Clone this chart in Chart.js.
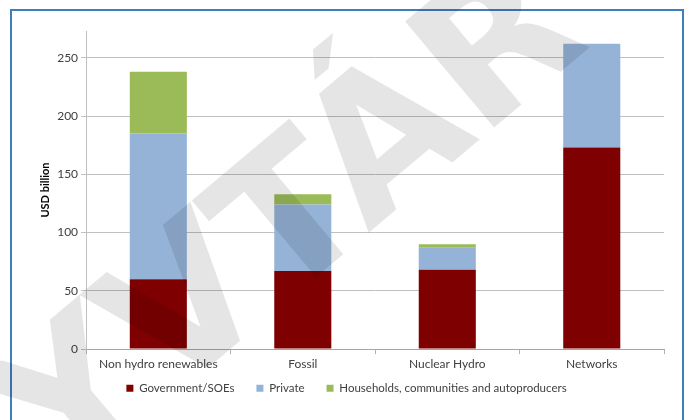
<!DOCTYPE html>
<html>
<head>
<meta charset="utf-8">
<script src="https://cdn.jsdelivr.net/npm/chart.js@4.4.1/dist/chart.umd.min.js"></script>
<style>
    body { margin: 0; background: #fff; }
    #wrap { position: relative; width: 689px; height: 420px; overflow: hidden; }
    #frame { position: absolute; left: 10px; top: 9px; width: 670px; height: 430px; border: 2px solid #3f7dc1; }
    #myChart { position: absolute; left: 0; top: 0; }
</style>
</head>
<body>
<div id="wrap">
    <div id="frame"></div>
    <canvas id="myChart" width="689" height="420"></canvas>
</div>
<script>
var categories = ['Non hydro renewables', 'Fossil', 'Nuclear Hydro', 'Networks'];
var seriesNames = ['Government/SOEs', 'Private', 'Households, communities and autoproducers'];
var government = [60, 67, 68, 173];
var privateSector = [125, 57, 19, 89];
var households = [53, 9, 3, 0];
var yTicks = [0, 50, 100, 150, 200, 250];
var watermarkText = 'KÖNYVTÁR';

var colors = ['#7f0000', '#95b3d7', '#9bbb59'];
var font = "Lato, 'Liberation Sans', sans-serif";

// pull the legend up closer to the category labels
var legendShift = {
    id: 'legendShift',
    afterLayout: function(chart) {
        chart.legend.top -= 14;
        chart.legend.bottom -= 14;
    }
};

// watermark drawn over everything, like the scanned original
var watermark = {
    id: 'watermark',
    afterDraw: function(chart) {
        var ctx = chart.ctx;
        ctx.save();
        ctx.translate(561, 7);
        ctx.rotate(-40 * Math.PI / 180);
        ctx.font = "bold 190px 'DejaVu Sans'";
        ctx.fillStyle = 'rgba(0, 0, 0, 0.1)';
        ctx.textAlign = 'right';
        ctx.textBaseline = 'middle';
        ctx.fillText(watermarkText, 0, 0);
        ctx.restore();
    }
};

var ctx = document.getElementById('myChart').getContext('2d');
var myChart = new Chart(ctx, {
    type: 'bar',
    data: {
        labels: categories,
        datasets: [
            { label: seriesNames[0], data: government, backgroundColor: colors[0] },
            { label: seriesNames[1], data: privateSector, backgroundColor: colors[1] },
            { label: seriesNames[2], data: households, backgroundColor: colors[2] }
        ]
    },
    options: {
        responsive: false,
        animation: false,
        datasets: { bar: { categoryPercentage: 1, barPercentage: 0.395 } },
        layout: { padding: { left: 29, right: 25, top: 31, bottom: 2 } },
        plugins: {
            legend: {
                position: 'bottom',
                labels: {
                    boxWidth: 7,
                    boxHeight: 7,
                    padding: 22,
                    color: '#404040',
                    font: { family: font, size: 11.5 }
                }
            },
            tooltip: { enabled: false }
        },
        scales: {
            x: {
                stacked: true,
                grid: { drawOnChartArea: false, drawTicks: true, tickLength: 5, color: '#b0b0b0' },
                border: { color: '#a6a6a6' },
                ticks: { color: '#404040', font: { family: font, size: 12 }, padding: 3 }
            },
            y: {
                stacked: true,
                min: 0,
                max: 273,
                afterBuildTicks: function(scale) {
                    scale.ticks = yTicks.map(function(v) { return { value: v }; });
                },
                grid: { color: '#c0c0c0', tickLength: 5 },
                border: { color: '#c0c0c0' },
                ticks: { color: '#404040', font: { family: font, size: 12 }, padding: 3 },
                title: {
                    display: true,
                    text: 'USD billion',
                    color: '#000',
                    font: { family: font, size: 11, weight: 'bold' },
                    padding: { top: 9.5, bottom: 2.5 }
                }
            }
        }
    },
    plugins: [legendShift, watermark]
});
</script>
</body>
</html>
